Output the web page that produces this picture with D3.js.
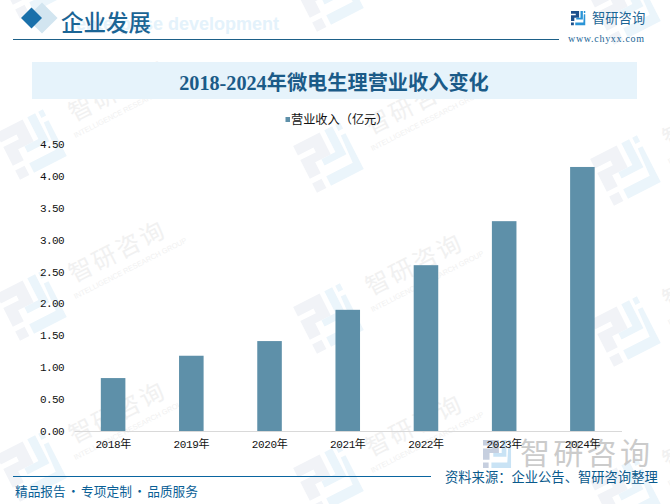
<!DOCTYPE html>
<html><head><meta charset="utf-8">
<script src="https://d3js.org/d3.v7.min.js"></script>
<style>html,body{margin:0;padding:0;background:#fff;overflow:hidden}svg{display:block}
.cjk{font-family:"Noto Sans CJK SC",sans-serif}
.num text{font-family:"Liberation Mono","Noto Sans CJK SC",monospace;fill:#111}
</style></head><body><svg id="c" width="670" height="504"></svg>
<script>
const categories = ["2018年","2019年","2020年","2021年","2022年","2023年","2024年"];
const revenue = [0.83,1.18,1.41,1.90,2.60,3.29,4.14];
const yTicks = [0,0.5,1,1.5,2,2.5,3,3.5,4,4.5];
const seriesName = "营业收入（亿元）";
const chartTitle = "2018-2024年微电生理营业收入变化";
const headerText = "企业发展";
const headerGhost = "enterprise development";
const brand = "智研咨询";
const brandEn = "INTELLIGENCE RESEARCH GROUP";
const site = "www.chyxx.com";
const footerLeft = "精品报告 · 专项定制 · 品质服务";
const footerRight = "资料来源：企业公告、智研咨询整理";

const BLUE="#1b6595", BAR="#5e90a9";
const svg=d3.select("#c");
const logoDark="M0 0H8.5V7H3.5V10.5H0V4.5H5V3H0Z M0 12H3V15H0Z";
const logoLight="M10 0H12.5V9H5.5V7H10Z M13.5 0H15V2H13.5Z M13.5 3.5H15V15H4.5V12H13Z";
function logo(g,s,c1,c2){
  g.append("path").attr("d",logoDark).attr("fill",c1).attr("transform",`scale(${s})`);
  g.append("path").attr("d",logoLight).attr("fill",c2).attr("transform",`scale(${s})`);
}
// background watermark tiles
const wm=svg.append("g");
for(let col=0;col<3;col++){for(let row=0;row<4;row++){
  const lx=32+col*297, ly=-17+row*161+col*13;
  const t=wm.append("g").attr("transform",`translate(${lx},${ly}) rotate(-27)`);
  const lg=t.append("g").attr("transform","translate(-27,-26)");
  logo(lg,3.5,"#f1f3f7","#ebf5fb");
  if(row===0) continue;
  const tg=wm.append("g").attr("transform",`translate(${lx+42},${ly-22}) rotate(-27)`);
  tg.append("text").attr("class","cjk").attr("x",0).attr("y",0).attr("font-size",24).attr("letter-spacing",2.5)
    .attr("fill","#f1f1f1").text(brand);
  tg.append("text").attr("font-family","Liberation Sans").attr("x",-6).attr("y",15).attr("font-size",7.4)
    .attr("fill","#f1f1f1").text(brandEn);
}}

// header
svg.append("path").attr("d",d3.symbol(d3.symbolSquare,2*11*11*2)()).attr("transform","translate(42,18) rotate(45)").attr("fill","#d2e5f0");
svg.append("path").attr("d",d3.symbol(d3.symbolSquare,2*10.5*10.5)()).attr("transform","translate(31.5,18) rotate(45)").attr("fill","#1a70aa");
svg.append("text").attr("x",279).attr("y",30).attr("text-anchor","end").attr("font-family","Liberation Sans").attr("font-weight",700)
  .attr("font-size",18).attr("fill","#e4f2fb").text(headerGhost);
svg.append("text").attr("class","cjk").attr("x",61).attr("y",31).attr("font-size",22.5).attr("font-weight",500).attr("fill",BLUE).text(headerText);
svg.append("line").attr("x1",13).attr("x2",559).attr("y1",39.5).attr("y2",39.5).attr("stroke","#1d6088").attr("stroke-width",1);
logo(svg.append("g").attr("transform","translate(571,11)"),0.95,"#1c4f8c","#2a94d6");
svg.append("text").attr("class","cjk").attr("x",592).attr("y",23).attr("font-size",13.3).attr("fill",BLUE).text(brand);
svg.append("text").attr("x",568).attr("y",41.5).attr("font-family","Liberation Serif").attr("font-size",10).attr("letter-spacing",0.7).attr("fill",BLUE).text(site);

// title band
svg.append("rect").attr("x",32).attr("y",62).attr("width",605).attr("height",37).attr("fill","#e6f3fb");
svg.append("text").attr("x",334).attr("y",89.5).attr("text-anchor","middle").attr("font-family","Liberation Serif,Noto Sans CJK SC").attr("font-weight",700)
  .attr("font-size",20.2).attr("fill","#1b5b88").text(chartTitle);

// legend
svg.append("rect").attr("x",285.5).attr("y",117).attr("width",4.5).attr("height",5).attr("fill",BAR);
svg.append("text").attr("class","cjk").attr("x",291).attr("y",123.5).attr("font-size",12.2).attr("fill","#111").text(seriesName);

// chart
const x=d3.scaleBand().domain(categories).range([74,621.5]).paddingInner(0.686).paddingOuter(0.343);
const y=d3.scaleLinear().domain([0,4.5]).range([431,144]);
svg.append("g").selectAll("rect").data(revenue).join("rect")
  .attr("x",(d,i)=>x(categories[i])).attr("width",x.bandwidth())
  .attr("y",d=>y(d)).attr("height",d=>y(0)-y(d)).attr("fill",BAR);

// large brand mark at bottom right
const bigLogo=svg.append("g").attr("transform","translate(483,440)");
logo(bigLogo,1.87,"#c6cfdf","#c9e3f5");
svg.append("text").attr("class","cjk").attr("x",520).attr("y",464).attr("font-size",30).attr("letter-spacing",3.3)
  .attr("fill","#cbcbcb").text(brand);

const yAxis=d3.axisLeft(y).tickValues(yTicks).tickFormat(d3.format(".2f")).tickSize(0).tickPadding(10);
const ya=svg.append("g").attr("class","num").attr("transform","translate(74,0)").call(yAxis);
ya.select(".domain").remove();
ya.selectAll("text").attr("font-size",11).attr("letter-spacing",-0.6);
const xAxis=d3.axisBottom(x).tickSize(0).tickPadding(9);
const xa=svg.append("g").attr("class","num").attr("transform","translate(0,431)").call(xAxis);
xa.select(".domain").attr("stroke","#d9d9d9").attr("stroke-width",1);
xa.selectAll("text").attr("font-size",11).attr("letter-spacing",-0.4);

// footer
svg.append("line").attr("x1",13).attr("x2",431).attr("y1",476.5).attr("y2",476.5).attr("stroke","#0a65a0").attr("stroke-width",1);
svg.append("text").attr("class","cjk").attr("x",15).attr("y",496).attr("font-size",12.7).attr("word-spacing",-1.5).attr("fill","#0a5f96").text(footerLeft);
svg.append("text").attr("class","cjk").attr("x",445).attr("y",482).attr("font-size",13.3).attr("fill","#0a5a8c").text(footerRight);
</script></body></html>
